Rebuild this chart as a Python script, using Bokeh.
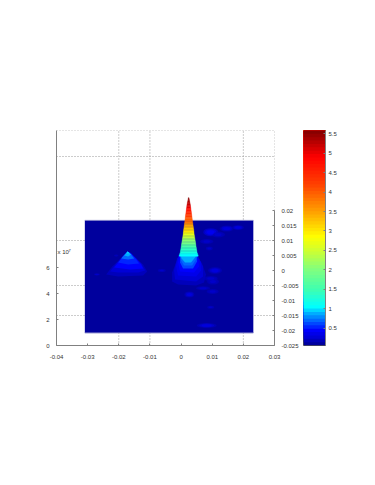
import numpy as np
from bokeh.embed import file_html
from bokeh.resources import INLINE
from bokeh.plotting import figure
from bokeh.layouts import row
from bokeh.models import (ColumnDataSource, FixedTicker, Label, LinearAxis,
                          LinearColorMapper, Range1d)

# ---------- data ----------
x_ticks = [-0.04, -0.03, -0.02, -0.01, 0, 0.01, 0.02, 0.03]
x_labels = ["-0.04", "-0.03", "-0.02", "-0.01", "0", "0.01", "0.02", "0.03"]
z_ticks = [0, 2, 4, 6]
z_labels = ["0", "2", "4", "6"]
y_ticks = [-0.025, -0.02, -0.015, -0.01, -0.005, 0, 0.005, 0.01, 0.015, 0.02]
y_labels = ["-0.025", "-0.02", "-0.015", "-0.01", "-0.005", "0", "0.005", "0.01", "0.015", "0.02"]
c_ticks = [0.5, 1, 1.5, 2, 2.5, 3, 3.5, 4, 4.5, 5, 5.5]
c_labels = ["0.5", "1", "1.5", "2", "2.5", "3", "3.5", "4", "4.5", "5", "5.5"]
c_low, c_high = 0.06, 5.58

# colour map as it appears in the bar: value and colour
cmap_v = [.06, .25, .45, .6, .85, 1.05, 1.5, 2.0, 2.5, 2.85, 3.5, 4.2, 4.9, 5.58]
cmap_c = ["#00008f", "#0000d0", "#0000ff", "#0040ff", "#00a0ff", "#00ffff", "#40ffb0",
          "#80ff80", "#d0ff30", "#ffff00", "#ffa000", "#ff4000", "#ff0000", "#800000"]

vgrid_x = [-0.04, -0.02, -0.01, 0.02, 0.03]
hgrid_y = [0.04667, 0.038, 0.01, -0.005, -0.015]

floor_x = [-0.0309, 0.0232]
floor_y = [-0.0208, 0.0167]

# main spike: row centre, half width, colour value
spike_x = 0.00244
spike_y = [.024, .0235, .023, .0225, .022, .0215, .021, .0205, .020, .0195, .019, .0185, .018,
           .0175, .017, .0165, .016, .0155, .015, .0145, .014, .0135, .013, .0125, .012, .0115,
           .011, .0105, .010, .0095, .009, .0085, .008, .0075, .007, .0065, .006, .0055, .005]
spike_hw = [.00013, .00022, .00032, .00042, .00051, .00058, .00064, .00071, .00077, .00084,
            .0009, .00097, .00103, .00109, .00115, .00122, .00128, .00135, .00141, .00148,
            .00154, .00161, .00167, .00171, .00176, .00184, .00192, .002, .00208, .00216,
            .00224, .0023, .00237, .00245, .00253, .00261, .00269, .00285, .00304]
spike_v = [5.5, 5.45, 5.4, 5.3, 5.2, 5.1, 5.0, 4.85, 4.7, 4.55, 4.4, 4.3, 4.2, 4.1, 4.0, 3.9,
           3.8, 3.65, 3.5, 3.35, 3.2, 3.1, 3.0, 2.85, 2.7, 2.55, 2.4, 2.25, 2.1, 2.0, 1.9,
           1.75, 1.6, 1.5, 1.4, 1.3, 1.2, 1.12, 1.05]

# foot of the main spike: contours, low to high
foot_v = [.17, .25, .35, .45, .6, .75, .9]
foot_x = [
    [-.0016, -.00288, -.00288, -.00096, .00481, .00737, .00801, .00673, .00545, -.00096],
    [-.00128, -.00224, -.00192, .00481, .00705, .00705, .00545, -.00064],
    [-.00096, -.0016, -.00096, .00481, .00641, .00641, .00513, -.00032],
    [-.00064, -.00096, -.00032, .00417, .00577, .00545, .00513, -.00032],
    [-.00032, -.00032, .00064, .00385, .00513, .00513],
    [-.00032, 0, .00096, .00353, .00481, .00513],
    [-.00032, .00016, .00128, .00321, .00449, .00513],
]
foot_y = [
    [.00267, -.00067, -.00367, -.00467, -.005, -.004, -.00133, .00233, .004, .004],
    [.004, 0, -.003, -.00367, -.002, .00133, .00467, .00467],
    [.00467, .00133, -.00167, -.002, 0, .00267, .005, .005],
    [.005, .00267, -.00033, -.00067, .00133, .004, .00533, .00533],
    [.00533, .00267, .00067, .00067, .003, .00533],
    [.00533, .00333, .00167, .00167, .00367, .00533],
    [.00567, .004, .00267, .00267, .00433, .00567],
]

# left peak: contours, low to high
left_v = [.2, .3, .42, .55, .7, .85, 1.0]
left_x = [
    [-.02404, -.02212, -.01923, -.01731, -.01635, -.01442, -.01218, -.0109, -.01218, -.02019],
    [-.02276, -.02083, -.01891, -.01731, -.01635, -.01474, -.01282, -.01154, -.01378, -.02019],
    [-.02147, -.01987, -.01827, -.01715, -.01603, -.01442, -.01282, -.01218, -.01635],
    [-.02019, -.01859, -.01715, -.01587, -.01442, -.01346, -.01699],
    [-.01923, -.01827, -.01715, -.01603, -.01506, -.01699],
    [-.01827, -.01715, -.01603, -.01699],
    [-.01763, -.01715, -.0165],
]
left_y = [
    [-.00133, .00133, .004, .006, .006, .004, .002, -.00033, -.00167, -.002],
    [-.00033, .00233, .00467, .00617, .006, .00433, .00233, 0, -.00067, -.00067],
    [.001, .003, .005, .00633, .00567, .004, .002, .00067, .00033],
    [.00267, .00467, .00633, .00533, .00367, .00233, .002],
    [.004, .00517, .00633, .00533, .004, .00367],
    [.005, .00633, .00533, .00467],
    [.00567, .00633, .00567],
]

# small bumps on the floor
bump_x = [.00952, .01186, .01465, .01827, .00824, .00907, .0109, .00952, .01026,
          .00705, .01016, .00266, .00952, .00824, -.02702, -.00619, -.02083]
bump_y = [.01277, .012, .014, .01433, .00967, .00733, 0, -.00267, -.00367,
          -.0059, -.007, -.008, -.01223, -.01833, -.00133, 0, .005]
bump_w = [.0048, .0045, .0045, .00385, .00417, .00224, .0045, .0045, .00385,
          .0045, .00385, .0032, .00224, .0064, .00256, .00256, .00192]
bump_h = [.00267, .002, .002, .00167, .00167, .00133, .00233, .00167, .002,
          .00133, .00167, .002, .001, .00167, .001, .001, .001]
bump_v = [.5, .3, .35, .35, .3, .3, .35, .3, .3, .3, .3, .4, .3, .35, .25, .3, .2]

# ---------- styling ----------
FONT = "Liberation Sans"
TXT = "#333333"
AX = "#808080"
GRID = "#999999"


def _rgb(h):
    return [int(h[i:i + 2], 16) for i in (1, 3, 5)]


c_edges = np.linspace(c_low, c_high, 65)
_mid = (c_edges[:-1] + c_edges[1:]) / 2
_anch = np.array([_rgb(c) for c in cmap_c], dtype=float)
jet = ["#%02x%02x%02x" % tuple(int(np.interp(m, cmap_v, _anch[:, k])) for k in range(3)) for m in _mid]
mapper = LinearColorMapper(palette=jet, low=c_low, high=c_high)
cmap = {"field": "v", "transform": mapper}


def style_axis(ax, ticks, labels, standoff):
    ax.ticker = FixedTicker(ticks=ticks)
    ax.major_label_overrides = dict(zip(ticks, labels))
    ax.major_label_text_font = FONT
    ax.major_label_text_font_size = "6px"
    ax.major_label_text_color = TXT
    ax.major_label_standoff = standoff
    ax.axis_line_color = AX
    ax.major_tick_line_color = AX
    ax.major_tick_in = 2
    ax.major_tick_out = 0
    ax.minor_tick_line_color = None
    ax.axis_label = None


# ---------- main axes ----------
p = figure(width=303, height=385, x_range=Range1d(-0.04, 0.03), y_range=Range1d(0, 16.54),
           output_backend="svg", toolbar_location=None, min_border_left=56,
           min_border_right=29, min_border_top=130, min_border_bottom=40)
p.outline_line_color = None
p.background_fill_color = "white"
p.grid.visible = False
p.extra_y_ranges = {"yr": Range1d(-0.025, 0.04667)}

style_axis(p.xaxis[0], x_ticks, x_labels, 9)
style_axis(p.yaxis[0], z_ticks, z_labels, 7)
right = LinearAxis(y_range_name="yr")
style_axis(right, y_ticks, y_labels, 7)
right.bounds = (-0.025, 0.02)
p.add_layout(right, "right")

p.segment(x0=vgrid_x, x1=vgrid_x, y0=[-0.025] * len(vgrid_x), y1=[0.04667] * len(vgrid_x),
          y_range_name="yr", line_color=GRID, line_dash="1 2", line_width=1)
p.segment(x0=[-0.04] * len(hgrid_y), x1=[0.03] * len(hgrid_y), y0=hgrid_y, y1=hgrid_y,
          y_range_name="yr", line_color=GRID, line_dash="1 2", line_width=1)

p.quad(left=[floor_x[0]], right=[floor_x[1]], bottom=[floor_y[0]], top=[floor_y[1]],
       y_range_name="yr", fill_color=jet[0], line_color=None)
p.segment(x0=[floor_x[0]] * 2, x1=[floor_x[1]] * 2, y0=floor_y, y1=floor_y,
          y_range_name="yr", line_color="#8080c8", line_width=1)

for f, k, a in [(1.0, 0.55, 0.7), (0.75, 0.75, 0.7), (0.5, 0.95, 0.6)]:
    src = ColumnDataSource(dict(x=bump_x, y=bump_y, w=[b * f for b in bump_w],
                                h=[b * f for b in bump_h], v=[b * k for b in bump_v]))
    p.ellipse(x="x", y="y", width="w", height="h", source=src, y_range_name="yr",
              fill_color=cmap, line_color=None, fill_alpha=a)

for xs, ys, vs in [(left_x, left_y, left_v), (foot_x, foot_y, foot_v)]:
    src = ColumnDataSource(dict(xs=xs, ys=ys, v=vs))
    p.patches(xs="xs", ys="ys", source=src, y_range_name="yr", fill_color=cmap, line_color=None)

src = ColumnDataSource(dict(left=[spike_x - h for h in spike_hw], right=[spike_x + h for h in spike_hw],
                            bottom=[y - 0.00025 for y in spike_y], top=[y + 0.00025 for y in spike_y],
                            v=spike_v))
p.quad(left="left", right="right", bottom="bottom", top="top", source=src, y_range_name="yr",
       fill_color=cmap, line_color=cmap, line_width=0.4)

p.add_layout(Label(x=-0.04, y=0.0052, y_range_name="yr", text="x 10", x_offset=1,
                   text_font=FONT, text_font_size="6px", text_color=TXT))
p.add_layout(Label(x=-0.04, y=0.0052, y_range_name="yr", text="7", x_offset=12, y_offset=3,
                   text_font=FONT, text_font_size="4px", text_color=TXT))

# ---------- colour bar ----------
cb = figure(width=54, height=385, x_range=Range1d(0, 1), y_range=Range1d(c_low, c_high),
            output_backend="svg", toolbar_location=None, min_border_left=0,
            min_border_right=32, min_border_top=130, min_border_bottom=40)
cb.outline_line_color = "#555555"
cb.grid.visible = False
cb.xaxis.visible = False
cb.yaxis.visible = False
ax = LinearAxis()
style_axis(ax, c_ticks, c_labels, 3)
cb.add_layout(ax, "right")
cb.quad(left=[0] * 64, right=[1] * 64, bottom=c_edges[:-1], top=[c_high] * 64,
        fill_color=jet, line_color=None)
cb.add_layout(Label(x=1, y=c_high, text="x 10", x_offset=-2, y_offset=1,
                    text_font=FONT, text_font_size="6px", text_color=TXT))
cb.add_layout(Label(x=1, y=c_high, text="7", x_offset=9, y_offset=4,
                    text_font=FONT, text_font_size="4px", text_color=TXT))

open("out.html", "w").write(file_html(row(p, cb, spacing=0), INLINE))
